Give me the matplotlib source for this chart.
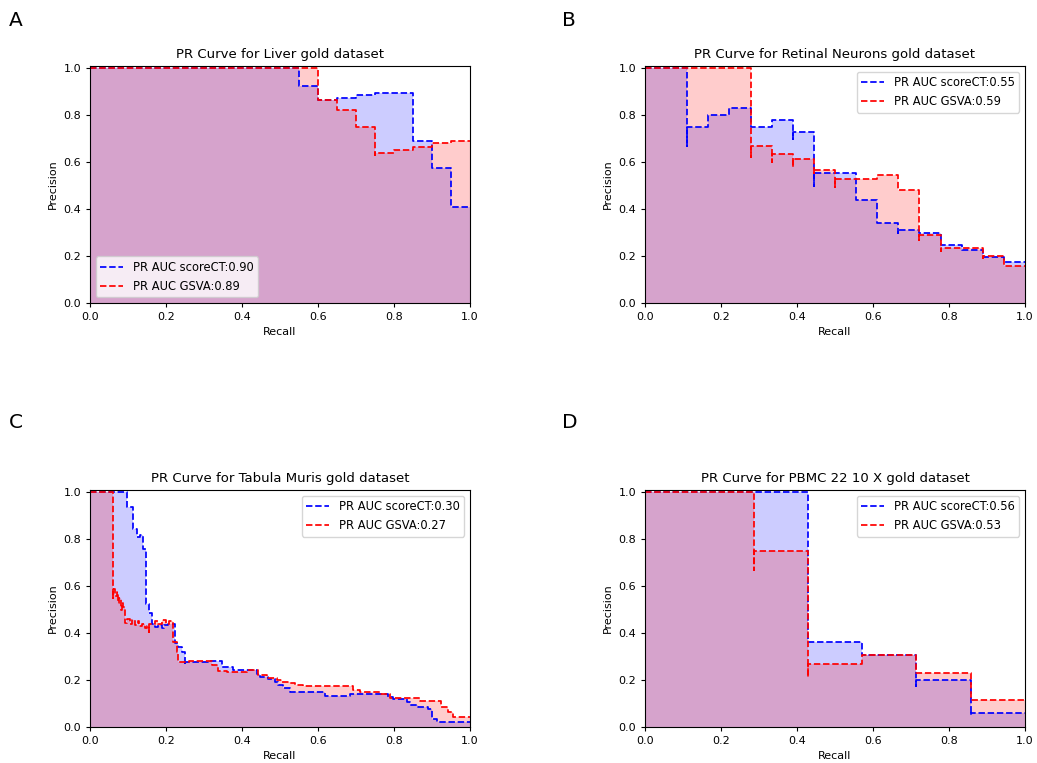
import matplotlib
matplotlib.use('Agg')
import matplotlib.pyplot as plt

# ---------------------------------------------------------------
# Data (recall, precision), step='post'
# ---------------------------------------------------------------
# A - Liver
liver_rec_sct = [0.0, 0.55, 0.60, 0.65, 0.70, 0.75, 0.85, 0.90, 0.95, 1.0]
liver_pre_sct = [1.0, 0.923, 0.867, 0.875, 0.885, 0.895, 0.692, 0.577, 0.41, 0.41]
liver_rec_gsva = [0.0, 0.60, 0.65, 0.70, 0.75, 0.75, 0.80, 0.85, 0.90, 0.95, 1.0]
liver_pre_gsva = [1.0, 0.867, 0.823, 0.75, 0.63, 0.64, 0.654, 0.665, 0.68, 0.69, 0.69]

# B - Retinal Neurons
retina_rec_sct = [0.0, 0.111, 0.111, 0.167, 0.222, 0.278, 0.333, 0.389, 0.389, 0.444, 0.444,
                  0.556, 0.611, 0.667, 0.667, 0.722, 0.778, 0.833, 0.889, 0.944, 1.0]
retina_pre_sct = [1.0, 0.667, 0.75, 0.80, 0.833, 0.75, 0.778, 0.70, 0.727, 0.50, 0.555,
                  0.438, 0.34, 0.297, 0.31, 0.297, 0.247, 0.225, 0.194, 0.176, 0.176]
retina_rec_gsva = [0.0, 0.278, 0.278, 0.333, 0.333, 0.389, 0.389, 0.444, 0.444, 0.5, 0.5,
                   0.611, 0.667, 0.722, 0.722, 0.778, 0.778, 0.889, 0.889, 0.944, 1.0]
retina_pre_gsva = [1.0, 0.623, 0.667, 0.60, 0.636, 0.58, 0.615, 0.555, 0.566, 0.495, 0.53,
                   0.545, 0.481, 0.268, 0.289, 0.223, 0.233, 0.19, 0.20, 0.158, 0.158]

# C - Tabula Muris
muris_rec_sct = [0.0, 0.098, 0.114, 0.123, 0.132, 0.14, 0.147, 0.154, 0.162, 0.17, 0.178,
                 0.19, 0.196, 0.205, 0.224, 0.232, 0.241, 0.25, 0.25, 0.311, 0.347, 0.377,
                 0.439, 0.447, 0.469, 0.487, 0.496, 0.509, 0.526, 0.618, 0.684, 0.785, 0.798,
                 0.833, 0.842, 0.864, 0.89, 0.899, 0.912, 1.0]
muris_pre_sct = [1.0, 0.937, 0.845, 0.81, 0.817, 0.76, 0.526, 0.484, 0.441, 0.425, 0.435,
                 0.42, 0.435, 0.44, 0.356, 0.34, 0.32, 0.264, 0.276, 0.282, 0.257, 0.243,
                 0.226, 0.214, 0.203, 0.193, 0.18, 0.165, 0.148, 0.133, 0.14, 0.126, 0.118,
                 0.108, 0.094, 0.086, 0.075, 0.033, 0.022, 0.022]
muris_rec_gsva = [0.0, 0.061, 0.061, 0.066, 0.070, 0.074, 0.077, 0.081, 0.085, 0.088, 0.092,
                  0.098, 0.105, 0.11, 0.118, 0.125, 0.13, 0.138, 0.145, 0.15, 0.156, 0.156,
                  0.165, 0.17, 0.18, 0.19, 0.2, 0.208, 0.219, 0.228, 0.232, 0.26, 0.29,
                  0.32, 0.337, 0.36, 0.412, 0.443, 0.465, 0.491, 0.504, 0.526, 0.539, 0.561,
                  0.693, 0.711, 0.763, 0.789, 0.868, 0.925, 0.943, 0.956, 1.0]
muris_pre_gsva = [1.0, 0.55, 0.59, 0.56, 0.575, 0.53, 0.548, 0.50, 0.527, 0.51, 0.445,
                  0.46, 0.44, 0.455, 0.435, 0.45, 0.43, 0.44, 0.42, 0.43, 0.405, 0.44,
                  0.44, 0.45, 0.44, 0.455, 0.44, 0.45, 0.363, 0.32, 0.278, 0.282, 0.28,
                  0.264, 0.24, 0.235, 0.243, 0.221, 0.207, 0.20, 0.193, 0.186, 0.18, 0.176,
                  0.157, 0.15, 0.139, 0.125, 0.112, 0.087, 0.065, 0.041, 0.041]

# D - PBMC 22 10 X
pbmc_rec_sct = [0.0, 0.429, 0.571, 0.714, 0.714, 0.857, 0.857, 1.0]
pbmc_pre_sct = [1.0, 0.364, 0.308, 0.176, 0.20, 0.051, 0.061, 0.061]
pbmc_rec_gsva = [0.0, 0.286, 0.286, 0.429, 0.429, 0.571, 0.714, 0.857, 1.0]
pbmc_pre_gsva = [1.0, 0.667, 0.75, 0.214, 0.267, 0.308, 0.231, 0.115, 0.115]

panels = [
    ('A', 'Liver', liver_rec_sct, liver_pre_sct, liver_rec_gsva, liver_pre_gsva, 0.90, 0.89, 'lower left'),
    ('B', 'Retinal Neurons', retina_rec_sct, retina_pre_sct, retina_rec_gsva, retina_pre_gsva, 0.55, 0.59, 'upper right'),
    ('C', 'Tabula Muris', muris_rec_sct, muris_pre_sct, muris_rec_gsva, muris_pre_gsva, 0.30, 0.27, 'upper right'),
    ('D', 'PBMC 22 10 X', pbmc_rec_sct, pbmc_pre_sct, pbmc_rec_gsva, pbmc_pre_gsva, 0.56, 0.53, 'upper right'),
]

# ---------------------------------------------------------------
# Plot
# ---------------------------------------------------------------
fig = plt.figure(figsize=(10.37, 7.63), dpi=100)

positions = [
    [0.0868, 0.6029, 0.3664, 0.3106],
    [0.6220, 0.6029, 0.3664, 0.3106],
    [0.0868, 0.0472, 0.3664, 0.3106],
    [0.6220, 0.0472, 0.3664, 0.3106],
]
letter_pos = [(0.009, 0.973), (0.542, 0.973), (0.009, 0.446), (0.542, 0.446)]

for (letter, name, rs, ps, rg, pg, auc_s, auc_g, loc), pos, lp in zip(panels, positions, letter_pos):
    ax = fig.add_axes(pos)
    ax.step(rs, ps, color='b', linestyle='--', linewidth=1.25, where='post',
            label='PR AUC scoreCT:%.2f' % auc_s)
    ax.fill_between(rs, ps, step='post', alpha=0.2, color='b', linewidth=0)
    ax.step(rg, pg, color='r', linestyle='--', linewidth=1.25, where='post',
            label='PR AUC GSVA:%.2f' % auc_g)
    ax.fill_between(rg, pg, step='post', alpha=0.2, color='r', linewidth=0)

    ax.set_xlim([0.0, 1.0])
    ax.set_ylim([0.0, 1.01])
    ax.set_xlabel('Recall', fontsize=8)
    ax.set_ylabel('Precision', fontsize=8)
    ax.set_title('PR Curve for %s gold dataset' % name, fontsize=9.5)
    ax.tick_params(labelsize=8, length=2.8, width=0.8)
    for sp in ax.spines.values():
        sp.set_linewidth(0.8)
    ax.legend(loc=loc, fontsize=8.3)

    fig.text(lp[0], lp[1], letter, fontsize=14.5, ha='left', va='center')

fig.savefig('out.png', dpi=100)
